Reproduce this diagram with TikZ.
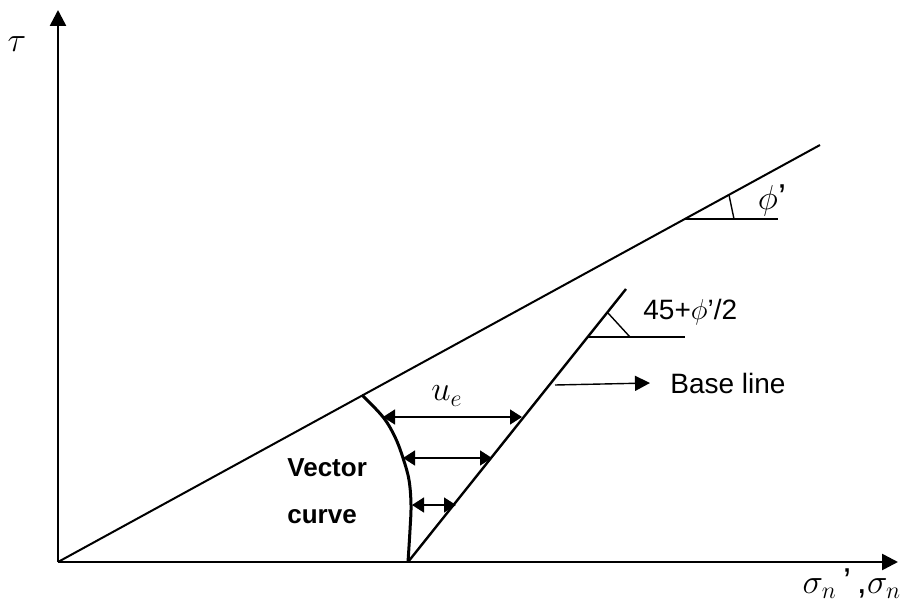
\documentclass[tikz,border=0pt]{standalone}
\usepackage{fontspec}
\setmainfont{Liberation Sans}
\usepackage{tikz}
\usetikzlibrary{arrows.meta}
\definecolor{ink}{HTML}{000000}
\tikzset{
  axis/.style={draw=ink, line width=1.3pt, -{Triangle[length=8pt,width=8pt]}},
  envline/.style={draw=ink, line width=1pt},
  baseln/.style={draw=ink, line width=1.2pt},
  vcurve/.style={draw=ink, line width=1.5pt},
  span/.style={draw=ink, line width=0.7pt,
    {Triangle[length=6pt,width=7.5pt]}-{Triangle[length=6pt,width=7.5pt]}},
  pointer/.style={draw=ink, line width=0.7pt, -{Triangle[length=7.5pt,width=7.5pt]}},
  tick/.style={draw=ink, line width=0.7pt},
  lbl/.style={font=\fontsize{14}{16}\selectfont, inner sep=0pt, text=ink},
  boldlbl/.style={font=\fontsize{13}{15}\selectfont\bfseries, inner sep=0pt, anchor=west, text=ink},
  mathlbl/.style={font=\fontsize{18}{20}\selectfont, inner sep=0pt, text=ink},
}

\begin{document}
\begin{tikzpicture}[x=0.5pt,y=0.5pt]
  \useasboundingbox (0,0) rectangle (900,606);

  % axes
  \coordinate (O) at (58,44);
  \coordinate (tauTop) at (58,596);
  \coordinate (sigEnd) at (898,44);
  \draw[axis] (O) -- (tauTop);
  \draw[axis] (O) -- (sigEnd);
  \node[mathlbl] (tau) at (17,562) {$\tau$};
  \node[mathlbl] (sig) at (852,22) {$\sigma_{n}$\,'\,,$\sigma_{n}$};

  % failure envelope
  \coordinate (failEnd) at (820,461);
  \draw[envline] (O) -- (failEnd);
  \coordinate (phiV) at (685,387);
  \coordinate (phiH) at (778,387);
  \coordinate (phiA) at (729,411);
  \coordinate (phiB) at (734,387);
  \draw[tick] (phiV) -- (phiH);
  \draw[tick] (phiA) -- (phiB);
  \node[mathlbl, anchor=center] (phi) at (772,406) {$\phi$'};

  % base line
  \coordinate (B) at (408,44);
  \coordinate (baseEnd) at (626,317);
  \draw[baseln] (B) -- (baseEnd);
  \coordinate (angV) at (588,269);
  \coordinate (angH) at (685,269);
  \coordinate (angA) at (608,293);
  \coordinate (angB) at (630,269);
  \draw[tick] (angV) -- (angH);
  \draw[tick] (angA) -- (angB);
  \node[lbl, anchor=west] (angLbl) at (643,294) {45+$\phi$'/2};

  \coordinate (ptrFrom) at (555,221);
  \node[lbl, anchor=west] (baseLbl) at (670,223) {Base line};
  \draw[pointer] (ptrFrom) -- (baseLbl.west -| 650,0);

  % vector curve
  \coordinate (vTop) at (362,211);
  \draw[vcurve] plot[smooth, tension=0.6] coordinates
    {(vTop) (383,189) (395,169) (403,148) (409,126) (411,101) (410,76) (B)};
  \node[boldlbl] (vec1) at (287,138) {Vector};
  \node[boldlbl] (vec2) at (287,89) {curve};

  % displacement arrows
  \coordinate (u1L) at (383,189);
  \coordinate (u1R) at (522,189);
  \coordinate (u2L) at (403,148);
  \coordinate (u2R) at (492,148);
  \coordinate (u3L) at (412,101);
  \coordinate (u3R) at (456,101);
  \draw[span] (u1L) -- (u1R);
  \draw[span] (u2L) -- (u2R);
  \draw[span] (u3L) -- (u3R);
  \node[mathlbl] (ue) at (447,210) {$u_{e}$};
\end{tikzpicture}
\end{document}
